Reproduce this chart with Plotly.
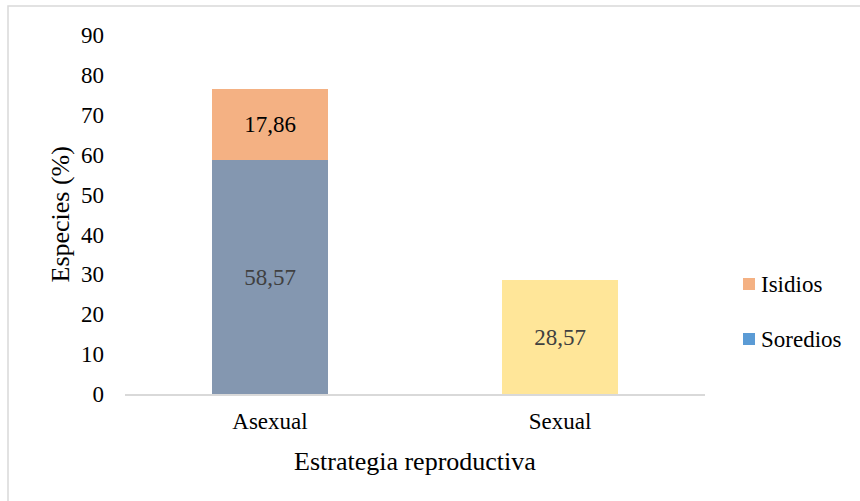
import plotly.graph_objects as go

# Data
categories = ["Asexual", "Sexual"]
soredios = [58.57, 28.57]      # lower segment (Sexual bar carries its own colour)
isidios = [17.86, None]        # upper segment, Asexual only
legend_names = ["Isidios", "Soredios"]

lower_colors = ["#8497B0", "#FFE699"]
lower_text_colors = ["#404040", "#404040"]
upper_color = "#F4B183"
legend_colors = {"Isidios": "#F4B183", "Soredios": "#5B9BD5"}

FONT = "Liberation Serif"

# Plot area in pixels (for placing the legend and frame in paper units)
W, H = 860, 501
L, R, T, B = 125, 155, 35, 107
PW, PH = W - L - R, H - T - B


def px_x(x):
    return (x - L) / PW


def px_y(y):
    return (H - B - y) / PH


fig = go.Figure()

fig.add_trace(go.Bar(
    x=categories, y=soredios, name="Soredios",
    marker=dict(color=lower_colors, line=dict(width=0)),
    texttemplate="%{y:.2f}", textposition="inside", insidetextanchor="middle",
    textangle=0, constraintext="none",
    textfont=dict(family=FONT, size=23, color=lower_text_colors),
    showlegend=False, hoverinfo="skip",
))
fig.add_trace(go.Bar(
    x=categories, y=isidios, name="Isidios",
    marker=dict(color=upper_color, line=dict(width=0)),
    texttemplate="%{y:.2f}", textposition="inside", insidetextanchor="middle",
    textangle=0, constraintext="none",
    textfont=dict(family=FONT, size=23, color="#000000"),
    showlegend=False, hoverinfo="skip",
))

# Legend: colour squares with labels on the right of the plot
shapes = [
    dict(type="rect", xref="paper", yref="paper",
         x0=px_x(8), x1=px_x(866), y0=px_y(506), y1=px_y(6),
         line=dict(color="#D9D9D9", width=1.5), fillcolor="rgba(0,0,0,0)",
         layer="below"),
]
annotations = [
    dict(text="Especies (%)", xref="paper", yref="paper",
         x=px_x(60), y=0.5, xanchor="center", yanchor="middle",
         textangle=-90, showarrow=False,
         font=dict(family=FONT, size=26, color="#000000")),
    dict(text="Estrategia reproductiva", xref="paper", yref="paper",
         x=0.5, y=px_y(461), xanchor="center", yanchor="middle",
         showarrow=False,
         font=dict(family=FONT, size=26, color="#000000")),
]
legend_y = [284, 339]
for name, yc in zip(legend_names, legend_y):
    shapes.append(dict(type="rect", xref="paper", yref="paper",
                       x0=px_x(743), x1=px_x(755), y0=px_y(yc + 6), y1=px_y(yc - 6),
                       line=dict(width=0), fillcolor=legend_colors[name]))
    annotations.append(dict(text=name, xref="paper", yref="paper",
                            x=px_x(759), y=px_y(yc), xanchor="left", yanchor="middle",
                            showarrow=False,
                            font=dict(family=FONT, size=23, color="#000000")))

fig.update_layout(
    width=W, height=H,
    margin=dict(l=L, r=R, t=T, b=B),
    paper_bgcolor="white", plot_bgcolor="white",
    barmode="stack", bargap=0.597,
    separators=",.",
    font=dict(family=FONT, size=23, color="#000000"),
    showlegend=False,
    xaxis=dict(
        showgrid=False, zeroline=False,
        showline=True, linecolor="#D9D9D9", linewidth=1.5,
        ticks="", ticklabelstandoff=6,
        tickfont=dict(family=FONT, size=23, color="#000000"),
    ),
    yaxis=dict(
        range=[0, 90], dtick=10, tick0=0,
        showgrid=False, zeroline=False, showline=False,
        ticks="", ticklabelstandoff=20,
        tickfont=dict(family=FONT, size=23, color="#000000"),
    ),
    annotations=annotations,
    shapes=shapes,
)

fig.write_html("out.html")
